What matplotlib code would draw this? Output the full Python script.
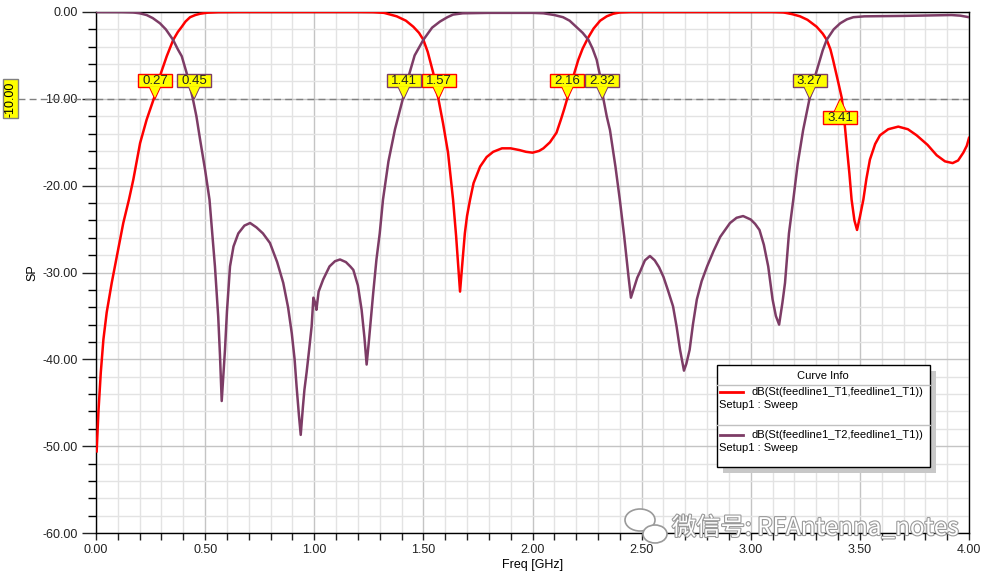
import matplotlib
matplotlib.use("Agg")
import matplotlib.pyplot as plt
import matplotlib.patheffects as pe
from matplotlib import transforms
from matplotlib.patches import Rectangle, Polygon, Ellipse
from matplotlib.lines import Line2D
from matplotlib.ticker import MultipleLocator, FormatStrFormatter

plt.rcParams["font.family"] = ["Liberation Sans", "DejaVu Sans"]

# S11 (red): freq [GHz], dB
s11_freq = [0.003, 0.011, 0.022, 0.034, 0.049, 0.072, 0.095, 0.125, 0.151, 0.171,
            0.202, 0.232, 0.266, 0.298, 0.324, 0.354, 0.375, 0.393, 0.41, 0.431,
            0.455, 0.477, 0.51, 0.56, 0.65, 1.20, 1.27, 1.32, 1.378, 1.42,
            1.454, 1.48, 1.50, 1.52, 1.545, 1.568, 1.59, 1.613, 1.636, 1.65,
            1.668, 1.68, 1.69, 1.70, 1.714, 1.73, 1.76, 1.79, 1.82, 1.86,
            1.90, 1.94, 1.97, 2.00, 2.03, 2.05, 2.08, 2.11, 2.13, 2.145,
            2.16, 2.18, 2.21, 2.23, 2.254, 2.28, 2.31, 2.34, 2.37, 2.40,
            2.45, 3.10, 3.15, 3.19, 3.226, 3.26, 3.302, 3.33, 3.348, 3.365,
            3.377, 3.40, 3.417, 3.43, 3.44, 3.452, 3.462, 3.475, 3.487, 3.50,
            3.516, 3.53, 3.546, 3.57, 3.592, 3.63, 3.676, 3.72, 3.76, 3.81,
            3.852, 3.89, 3.925, 3.95, 3.974, 3.99, 4.00]
s11_db = [-50.6, -46.1, -41.5, -37.7, -34.6, -31.2, -28.2, -24.3, -21.6, -19.3,
          -15.1, -12.4, -9.9, -7.0, -5.1, -3.2, -2.3, -1.7, -1.1, -0.6,
          -0.35, -0.2, -0.08, -0.02, 0.0, 0.0, -0.02, -0.1, -0.5, -1.0,
          -1.7, -2.4, -3.2, -4.6, -7.0, -9.9, -12.8, -16.2, -21.6, -25.8,
          -32.2, -28.5, -25.5, -23.5, -21.6, -19.7, -17.8, -16.7, -16.1, -15.7,
          -15.7, -15.9, -16.1, -16.2, -16.0, -15.7, -15.0, -13.9, -12.4, -11.2,
          -9.9, -8.0, -5.5, -4.2, -3.0, -1.9, -1.0, -0.5, -0.2, -0.05,
          0.0, 0.0, -0.05, -0.25, -0.5, -0.9, -1.7, -2.5, -3.2, -4.3,
          -5.5, -8.0, -9.9, -12.8, -15.5, -18.6, -21.6, -24.0, -25.1, -23.6,
          -21.6, -19.2, -17.0, -15.2, -14.2, -13.5, -13.2, -13.5, -14.2, -15.3,
          -16.5, -17.2, -17.4, -17.1, -16.2, -15.4, -14.5]

# S21 (purple)
s21_freq = [0.005, 0.12, 0.17, 0.20, 0.232, 0.26, 0.293, 0.32, 0.353, 0.375,
            0.393, 0.415, 0.443, 0.46, 0.477, 0.50, 0.52, 0.545, 0.56, 0.568,
            0.576, 0.583, 0.591, 0.60, 0.614, 0.63, 0.652, 0.68, 0.706, 0.735,
            0.765, 0.797, 0.83, 0.858, 0.88, 0.897, 0.91, 0.919, 0.93, 0.938,
            0.948, 0.955, 0.965, 0.977, 0.988, 0.996, 1.003, 1.01, 1.02, 1.041,
            1.07, 1.095, 1.118, 1.145, 1.165, 1.179, 1.20, 1.217, 1.23, 1.24,
            1.25, 1.27, 1.285, 1.30, 1.315, 1.34, 1.37, 1.407, 1.43, 1.46,
            1.50, 1.54, 1.576, 1.61, 1.636, 1.68, 1.80, 2.00, 2.05, 2.10,
            2.14, 2.17, 2.20, 2.23, 2.256, 2.275, 2.294, 2.31, 2.324, 2.34,
            2.355, 2.38, 2.40, 2.42, 2.44, 2.451, 2.465, 2.48, 2.493, 2.515,
            2.538, 2.56, 2.58, 2.60, 2.62, 2.644, 2.66, 2.676, 2.694, 2.705,
            2.72, 2.735, 2.753, 2.775, 2.80, 2.83, 2.86, 2.905, 2.935, 2.965,
            3.00, 3.02, 3.04, 3.06, 3.08, 3.10, 3.115, 3.13, 3.145, 3.157,
            3.175, 3.195, 3.215, 3.24, 3.27, 3.29, 3.31, 3.33, 3.348, 3.38,
            3.41, 3.44, 3.47, 3.52, 3.70, 3.85, 3.92, 3.96, 4.00]
s21_db = [0.0, -0.01, -0.05, -0.15, -0.35, -0.7, -1.3, -2.0, -3.2, -4.3,
          -5.1, -7.0, -9.9, -12.0, -14.7, -18.2, -21.6, -29.3, -35.1, -39.5,
          -44.8, -42.0, -38.9, -34.5, -29.3, -27.0, -25.5, -24.6, -24.3, -24.8,
          -25.5, -26.6, -28.8, -31.2, -34.0, -37.0, -40.0, -43.1, -46.5, -48.7,
          -45.5, -43.5, -41.5, -38.8, -36.2, -32.9, -33.4, -34.3, -32.2, -30.8,
          -29.3, -28.7, -28.5, -28.8, -29.3, -29.7, -31.5, -34.3, -37.5, -40.6,
          -38.0, -32.4, -28.5, -25.5, -21.6, -17.2, -13.5, -9.9, -7.6, -5.0,
          -3.2, -1.8, -1.1, -0.6, -0.3, -0.15, -0.1, -0.1, -0.15, -0.35,
          -0.6, -1.0, -1.7, -2.4, -3.2, -4.2, -5.5, -7.4, -9.9, -12.0,
          -13.6, -17.8, -21.6, -25.8, -30.5, -32.9, -31.8, -30.6, -29.9, -28.6,
          -28.1, -28.6, -29.4, -30.5, -32.0, -33.9, -36.2, -38.9, -41.3, -40.5,
          -38.9, -36.0, -33.1, -31.0, -29.3, -27.5, -25.9, -24.3, -23.7, -23.5,
          -23.9, -24.4, -25.1, -26.8, -29.3, -33.1, -35.0, -36.0, -33.5, -31.2,
          -25.5, -21.6, -17.5, -13.6, -9.9, -7.8, -6.1, -4.4, -3.2, -2.0,
          -1.3, -0.85, -0.6, -0.5, -0.45, -0.38, -0.35, -0.42, -0.6]

curve_names = ["dB(St(feedline1_T1,feedline1_T1))", "dB(St(feedline1_T2,feedline1_T1))"]
curve_colors = ["#ff0000", "#7d3c66"]

# -10 dB crossing markers
ref_level = -10.0
red_markers = [0.27, 1.57, 2.16, 3.41]
purple_markers = [0.45, 1.41, 2.32, 3.27]
below_markers = [3.41]

W, H = 986, 572
fig = plt.figure(figsize=(W / 100, H / 100), dpi=100)
ax = fig.add_axes([96 / W, 1 - 533 / H, 873 / W, 521 / H])


def fx(px):
    return px / W


def fy(py):
    return 1 - py / H


ax.plot(s11_freq, s11_db, color=curve_colors[0], lw=1.8, zorder=3)
ax.plot(s21_freq, s21_db, color=curve_colors[1], lw=1.8, zorder=3)

ax.set_xlim(0, 4)
ax.set_ylim(-60, 0)
ax.xaxis.set_major_locator(MultipleLocator(0.5))
ax.xaxis.set_minor_locator(MultipleLocator(0.1))
ax.yaxis.set_major_locator(MultipleLocator(10))
ax.yaxis.set_minor_locator(MultipleLocator(2))
ax.xaxis.set_major_formatter(FormatStrFormatter("%.2f"))
ax.yaxis.set_major_formatter(FormatStrFormatter("%.2f"))
ax.grid(True, which="major", color="#c4c4c4", lw=1)
ax.grid(True, which="minor", color="#e3e3e3", lw=1)
ax.set_axisbelow(True)
ax.tick_params(axis="y", which="major", length=10, width=1, labelsize=9, pad=3, colors="#222222")
ax.tick_params(axis="y", which="minor", length=6, width=1)
ax.tick_params(axis="x", which="both", length=5, width=1, labelsize=9, pad=3, colors="#222222")
for s in ax.spines.values():
    s.set_color("black")
    s.set_linewidth(1)
ax.set_xlabel("Freq [GHz]", fontsize=9, labelpad=2)
ax.set_ylabel("SP", fontsize=9)
ax.yaxis.set_label_coords((38 - 96) / 873, 0.5)

# dashed reference line, reaching out to the y-axis marker
blend = transforms.blended_transform_factory(ax.transAxes, ax.transData)
ax.plot([(18 - 96) / 873, 1], [ref_level, ref_level], transform=blend, color="#808080",
        lw=1, ls=(0, (5, 3)), clip_on=False, zorder=2)
ytr = fig.dpi_scale_trans + transforms.ScaledTranslation(0, ref_level, blend)
ax.add_patch(Rectangle((-0.93, -0.195), 0.15, 0.39, transform=ytr, fc="#ffff00",
                       ec="#808080", lw=1, clip_on=False, zorder=6))
ax.text(-0.855, 0.0, "%.2f" % ref_level, transform=ytr, rotation=90, ha="center",
        va="center", fontsize=9, clip_on=False, zorder=7)


def add_marker(f, color, below):
    sign = -1 if below else 1
    tr = fig.dpi_scale_trans + transforms.ScaledTranslation(f, ref_level, ax.transData)
    tri = Polygon([(-0.06, sign * 0.13), (0.06, sign * 0.13), (0, 0)], closed=True,
                  fc="#ffff00", ec=color, lw=1, transform=tr, zorder=6)
    ax.add_patch(tri)
    y0 = 0.12 if not below else -0.25
    ax.add_patch(Rectangle((-0.17, y0), 0.34, 0.13, transform=tr, fc="#ffff00",
                           ec=color, lw=1, zorder=7))
    # cover the triangle base so box and pointer read as one shape
    ax.add_patch(Polygon([(-0.055, sign * 0.125), (0.055, sign * 0.125), (0, sign * 0.01)],
                         closed=True, fc="#ffff00", ec="none", transform=tr, zorder=8))
    ax.text(0, sign * 0.185 - 0.01, "%.2f" % f, transform=tr, ha="center", va="center",
            fontsize=9.5, color="#222222", zorder=9)


for f in red_markers:
    add_marker(f, curve_colors[0], f in below_markers)
for f in purple_markers:
    add_marker(f, curve_colors[1], f in below_markers)

# curve info box
fig.patches.append(Rectangle((fx(723), fy(473)), fx(213), 102 / H, transform=fig.transFigure,
                             fc="#c8c8c8", ec="none", zorder=8))
fig.patches.append(Rectangle((fx(717), fy(467)), fx(213), 102 / H, transform=fig.transFigure,
                             fc="white", ec="black", lw=1, zorder=9))
fig.text(fx(823), fy(376), "Curve Info", ha="center", va="center", fontsize=8, zorder=10)
fig.add_artist(Line2D([fx(717), fx(930)], [fy(385), fy(385)], color="#c0c0c0", lw=1, zorder=10))
fig.add_artist(Line2D([fx(717), fx(930)], [fy(425), fy(425)], color="#c0c0c0", lw=1, zorder=10))
for i, (name, col) in enumerate(zip(curve_names, curve_colors)):
    y0 = 392 + i * 43
    fig.add_artist(Line2D([fx(720), fx(743)], [fy(y0), fy(y0)], color=col, lw=2, zorder=10))
    fig.text(fx(752), fy(y0), name, ha="left", va="center", fontsize=8, zorder=10)
    fig.text(fx(719), fy(y0 + 13), "Setup1 : Sweep", ha="left", va="center", fontsize=8, zorder=10)

# watermark
wm = fig.text(fx(672), fy(528), "微信号: RFAntenna_notes", ha="left", va="center", fontsize=17.5,
              color="white", family=["Noto Sans CJK SC", "DejaVu Sans"], zorder=20)
wm.set_path_effects([pe.Stroke(linewidth=1.6, foreground="#9a9a9a"), pe.Normal()])
for (cx, cy, w, h) in [(640, 520, 30, 22), (655, 534, 24, 18)]:
    fig.patches.append(Ellipse((cx / 100, (H - cy) / 100), w / 100, h / 100,
                               transform=fig.dpi_scale_trans, fc="white", ec="#9a9a9a",
                               lw=1.2, zorder=19))

fig.savefig("out.png", dpi=100)
